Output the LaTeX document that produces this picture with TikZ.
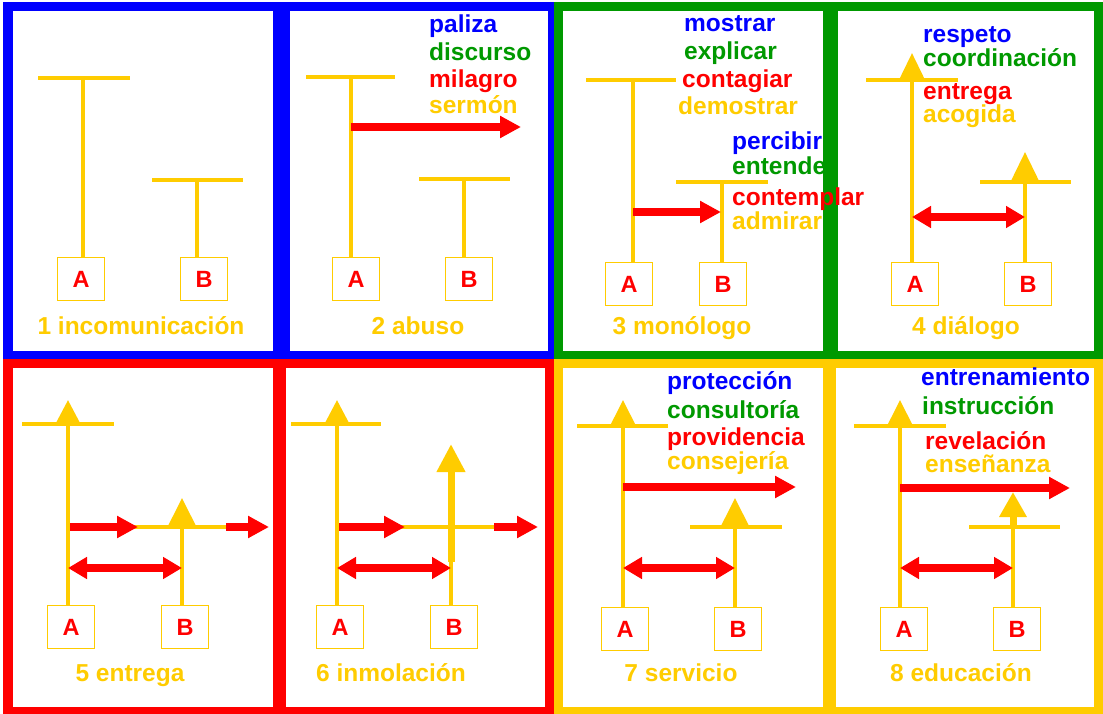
\documentclass[tikz,border=0pt]{standalone}
\usepackage{fontspec}
\setmainfont{Liberation Sans}
\usetikzlibrary{arrows.meta}
\definecolor{yel}{HTML}{FFCC00}
\definecolor{blu}{HTML}{0000FF}
\definecolor{grn}{HTML}{009900}
\definecolor{rd}{HTML}{FF0000}
\begin{document}
\begin{tikzpicture}[x=1pt,y=-1pt,
  lbl/.style={font=\bfseries\fontsize{24.5}{27}\selectfont, inner sep=0pt},
  word/.style={lbl, anchor=mid west},
  ttl/.style={lbl, text=yel, anchor=mid},
  abox/.style={draw=yel, line width=1pt, minimum width=47pt, minimum height=43pt, inner sep=0pt, text=rd, font=\bfseries\fontsize{23.5}{23.5}\selectfont, anchor=north west},
  bar/.style={draw=yel, line width=4pt},
  stem/.style={draw=yel, line width=4pt},
  upstem/.style 2 args={stem, -{Triangle[length=#1,width=#2]}},
  thickup/.style 2 args={draw=yel, line width=7pt, -{Triangle[length=#1,width=#2]}},
  redarrow/.style={draw=rd, line width=8.5pt, -{Triangle[length=21pt,width=21pt]}},
  dblarrow/.style={draw=rd, line width=7.5pt, {Triangle[length=19pt,width=21pt]}-{Triangle[length=19pt,width=21pt]}},
]
\useasboundingbox (0,0) rectangle (1103,714);
\fill[white] (0,0) rectangle (1103,714);
% quadrant frames
\fill[blu] (3,2) rectangle (554,359);
\fill[grn] (554,2) rectangle (1103,359);
\fill[rd] (3,359) rectangle (554,714);
\fill[yel] (554,359) rectangle (1103,714);
% white panels
\fill[white] (13,11) rectangle (273,351);
\fill[white] (290,11) rectangle (548,351);
\fill[white] (563,11) rectangle (823,351);
\fill[white] (838,11) rectangle (1094,351);
\fill[white] (13,368) rectangle (273,707);
\fill[white] (286,368) rectangle (545,707);
\fill[white] (563,368) rectangle (823,707);
\fill[white] (836,368) rectangle (1094,707);

% ---------- panel 1 ----------
\node[abox] (A1) at (57,257) {A};
\node[abox] (B1) at (180,257) {B};
\coordinate (t1a) at (83,78);
\coordinate (t1b) at (197,180);
\draw[bar] (38,78) -- (130,78);
\draw[stem] (A1.north -| t1a) -- (t1a);
\draw[bar] (152,180) -- (243,180);
\draw[stem] (B1.north -| t1b) -- (t1b);
\node[ttl] (L1) at (141,332) {1 incomunicación};

% ---------- panel 2 ----------
\node[abox] (A2) at (332,257) {A};
\node[abox] (B2) at (445,257) {B};
\coordinate (t2a) at (351,77);
\coordinate (t2b) at (464,179);
\coordinate (s2) at (351,127);
\coordinate (e2) at (521,127);
\draw[bar] (306,77) -- (395,77);
\draw[stem] (A2.north -| t2a) -- (t2a);
\draw[bar] (419,179) -- (510,179);
\draw[stem] (B2.north -| t2b) -- (t2b);
\draw[redarrow] (s2) -- (e2);
\node[word, text=blu] (w2a) at (429,30) {paliza};
\node[word, text=grn] (w2b) at (429,58) {discurso};
\node[word, text=rd] (w2c) at (429,85) {milagro};
\node[word, text=yel] (w2d) at (429,111) {sermón};
\node[ttl] (L2) at (418,332) {2 abuso};

% ---------- panel 3 ----------
\node[abox] (A3) at (605,262) {A};
\node[abox] (B3) at (699,262) {B};
\coordinate (t3a) at (633,80);
\coordinate (t3b) at (722,182);
\coordinate (s3) at (633,212);
\coordinate (e3) at (721,212);
\draw[bar] (586,80) -- (676,80);
\draw[stem] (A3.north -| t3a) -- (t3a);
\draw[bar] (676,182) -- (768,182);
\draw[stem] (B3.north -| t3b) -- (t3b);
\draw[redarrow] (s3) -- (e3);
\node[word, text=blu] (w3a) at (684,29) {mostrar};
\node[word, text=grn] (w3b) at (684,57) {explicar};
\node[word, text=rd] (w3c) at (682,85) {contagiar};
\node[word, text=yel] (w3d) at (678,112) {demostrar};
\node[word, text=blu] (w3e) at (732,147) {percibir};
\node[word, text=grn] (w3f) at (732,172) {entender};
\node[word, text=yel] (w3h) at (732,227) {admirar};
\node[ttl] (L3) at (682,332) {3 monólogo};
% divider drawn over overflowing words
\fill[grn] (823,11) rectangle (838,351);
\node[word, text=rd] (w3g) at (732,203) {contemplar};

% ---------- panel 4 ----------
\node[abox] (A4) at (891,262) {A};
\node[abox] (B4) at (1004,262) {B};
\coordinate (t4a) at (912,53);
\coordinate (t4b) at (1025,152);
\coordinate (s4) at (912,217);
\coordinate (e4) at (1025,217);
\draw[bar] (866,80) -- (958,80);
\draw[upstem={27pt}{25pt}] (A4.north -| t4a) -- (t4a);
\draw[bar] (980,182) -- (1071,182);
\draw[upstem={30pt}{28pt}] (B4.north -| t4b) -- (t4b);
\draw[dblarrow] (s4) -- (e4);
\node[word, text=blu] (w4a) at (923,40) {respeto};
\node[word, text=grn] (w4b) at (923,64) {coordinación};
\node[word, text=rd] (w4c) at (923,97) {entrega};
\node[word, text=yel] (w4d) at (923,120) {acogida};
\node[ttl] (L4) at (966,332) {4 diálogo};

% ---------- panel 5 ----------
\node[abox] (A5) at (47,605) {A};
\node[abox] (B5) at (161,605) {B};
\coordinate (t5a) at (68,400);
\coordinate (t5b) at (182,498);
\coordinate (h5a) at (68,527);
\coordinate (h5b) at (232,527);
\coordinate (r5a) at (70,527);
\coordinate (r5b) at (138,527);
\coordinate (r5c) at (226,527);
\coordinate (r5d) at (269,527);
\coordinate (s5) at (68,568);
\coordinate (e5) at (182,568);
\draw[bar] (22,424) -- (114,424);
\draw[upstem={24pt}{24pt}] (A5.north -| t5a) -- (t5a);
\draw[bar] (h5a) -- (h5b);
\draw[upstem={29pt}{28pt}] (B5.north -| t5b) -- (t5b);
\draw[redarrow] (r5a) -- (r5b);
\draw[redarrow] (r5c) -- (r5d);
\draw[dblarrow] (s5) -- (e5);
\node[ttl] (L5) at (130,679) {5 entrega};

% ---------- panel 6 ----------
\node[abox] (A6) at (316,605) {A};
\node[abox] (B6) at (430,605) {B};
\coordinate (t6a) at (337,400);
\coordinate (m6b) at (451,562);
\coordinate (t6b) at (451,444);
\coordinate (h6a) at (337,527);
\coordinate (h6b) at (497,527);
\coordinate (r6a) at (339,527);
\coordinate (r6b) at (405,527);
\coordinate (r6c) at (494,527);
\coordinate (r6d) at (538,527);
\coordinate (s6) at (337,568);
\coordinate (e6) at (451,568);
\draw[bar] (291,424) -- (381,424);
\draw[upstem={24pt}{24pt}] (A6.north -| t6a) -- (t6a);
\draw[bar] (h6a) -- (h6b);
\draw[stem] (B6.north -| m6b) -- (m6b);
\draw[thickup={28pt}{27pt}] (m6b) -- (t6b);
\draw[redarrow] (r6a) -- (r6b);
\draw[redarrow] (r6c) -- (r6d);
\draw[dblarrow] (s6) -- (e6);
\node[ttl] (L6) at (391,679) {6 inmolación};

% ---------- panel 7 ----------
\node[abox] (A7) at (601,607) {A};
\node[abox] (B7) at (714,607) {B};
\coordinate (t7a) at (623,400);
\coordinate (t7b) at (735,498);
\coordinate (s7r) at (623,487);
\coordinate (e7r) at (796,487);
\coordinate (s7) at (623,568);
\coordinate (e7) at (735,568);
\draw[bar] (577,426) -- (668,426);
\draw[upstem={26pt}{25pt}] (A7.north -| t7a) -- (t7a);
\draw[bar] (690,527) -- (782,527);
\draw[upstem={29pt}{28pt}] (B7.north -| t7b) -- (t7b);
\draw[redarrow] (s7r) -- (e7r);
\draw[dblarrow] (s7) -- (e7);
\node[word, text=blu] (w7a) at (667,387) {protección};
\node[word, text=grn] (w7b) at (667,416) {consultoría};
\node[word, text=rd] (w7c) at (667,443) {providencia};
\node[word, text=yel] (w7d) at (667,467) {consejería};
\node[ttl] (L7) at (681,679) {7 servicio};

% ---------- panel 8 ----------
\node[abox] (A8) at (880,607) {A};
\node[abox] (B8) at (993,607) {B};
\coordinate (t8a) at (900,400);
\coordinate (m8b) at (1013,527);
\coordinate (t8b) at (1013,492);
\coordinate (s8r) at (900,488);
\coordinate (e8r) at (1070,488);
\coordinate (s8) at (900,568);
\coordinate (e8) at (1013,568);
\draw[bar] (854,426) -- (946,426);
\draw[upstem={26pt}{25pt}] (A8.north -| t8a) -- (t8a);
\draw[bar] (969,527) -- (1060,527);
\draw[stem] (B8.north -| m8b) -- (m8b);
\draw[thickup={25pt}{26pt}] (m8b) -- (t8b);
\draw[redarrow] (s8r) -- (e8r);
\draw[dblarrow] (s8) -- (e8);
\node[word, text=blu] (w8a) at (921,383) {entrenamiento};
\node[word, text=grn] (w8b) at (922,412) {instrucción};
\node[word, text=rd] (w8c) at (925,447) {revelación};
\node[word, text=yel] (w8d) at (925,470) {enseñanza};
\node[ttl] (L8) at (961,679) {8 educación};
\end{tikzpicture}
\end{document}
